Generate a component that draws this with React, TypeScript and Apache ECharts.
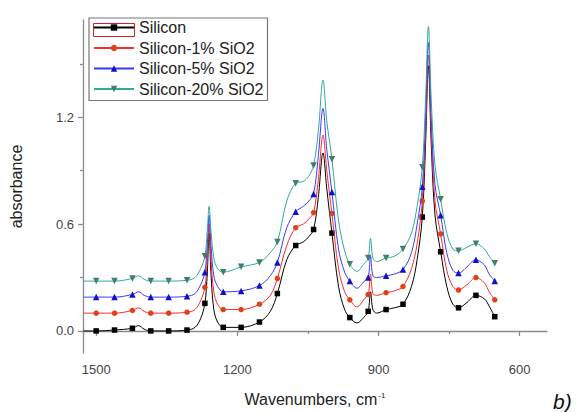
import React, { useEffect, useRef } from "react";
import * as echarts from "echarts";

const WAVENUMBERS = [
  1527, 1500, 1461, 1423, 1410, 1398, 1384, 1346, 1307, 1290, 1278, 1269, 1264, 1260, 1256, 1250,
  1242, 1230, 1192, 1153, 1130, 1115, 1095, 1076, 1060, 1048, 1038, 1028, 1018, 1010, 999, 985,
  972, 961, 946, 930, 922, 917, 912, 904, 884, 866, 848, 830, 818, 807, 800, 794, 788, 780, 768,
  755, 742, 730, 712, 693, 675, 665, 653,
];

const SILICON = [
  0.0, 0.0, 0.005, 0.015, 0.03, 0.01, 0.0, 0.0, 0.005, 0.02, 0.07, 0.155, 0.32, 0.55, 0.32, 0.12,
  0.05, 0.02, 0.02, 0.05, 0.11, 0.21, 0.4, 0.48, 0.5, 0.53, 0.57, 0.75, 1.0, 0.8, 0.55, 0.25,
  0.12, 0.075, 0.045, 0.08, 0.11, 0.22, 0.12, 0.1, 0.12, 0.13, 0.15, 0.25, 0.4, 0.64, 1.05, 1.49,
  1.05, 0.65, 0.445, 0.25, 0.15, 0.13, 0.16, 0.2, 0.18, 0.14, 0.08,
];

const SILICON_1 = [
  0.1, 0.1, 0.1, 0.115, 0.13, 0.11, 0.1, 0.1, 0.105, 0.12, 0.17, 0.245, 0.4, 0.6, 0.4, 0.22,
  0.15, 0.12, 0.12, 0.15, 0.2, 0.295, 0.48, 0.58, 0.6, 0.63, 0.665, 0.85, 1.1, 0.9, 0.66, 0.35,
  0.22, 0.175, 0.135, 0.18, 0.205, 0.32, 0.21, 0.2, 0.215, 0.225, 0.25, 0.35, 0.49, 0.73, 1.12,
  1.55, 1.12, 0.73, 0.545, 0.34, 0.25, 0.23, 0.26, 0.3, 0.27, 0.22, 0.175,
];

const SILICON_5 = [
  0.19, 0.19, 0.19, 0.205, 0.22, 0.2, 0.19, 0.19, 0.195, 0.21, 0.26, 0.33, 0.48, 0.65, 0.48, 0.31,
  0.25, 0.22, 0.225, 0.255, 0.31, 0.385, 0.58, 0.67, 0.7, 0.73, 0.77, 0.98, 1.25, 1.02, 0.78,
  0.46, 0.33, 0.28, 0.24, 0.28, 0.3, 0.42, 0.31, 0.3, 0.31, 0.32, 0.345, 0.44, 0.6, 0.81, 1.2,
  1.62, 1.2, 0.82, 0.65, 0.44, 0.34, 0.325, 0.36, 0.4, 0.37, 0.32, 0.28,
];

const SILICON_20 = [
  0.28, 0.28, 0.28, 0.295, 0.31, 0.29, 0.28, 0.28, 0.285, 0.3, 0.35, 0.42, 0.56, 0.7, 0.56, 0.41,
  0.35, 0.33, 0.36, 0.385, 0.44, 0.5, 0.73, 0.83, 0.84, 0.87, 0.93, 1.12, 1.41, 1.18, 0.965,
  0.62, 0.45, 0.375, 0.335, 0.38, 0.41, 0.52, 0.41, 0.39, 0.41, 0.42, 0.46, 0.55, 0.7, 0.92,
  1.3, 1.71, 1.3, 0.93, 0.74, 0.55, 0.46, 0.45, 0.47, 0.49, 0.46, 0.42, 0.38,
];

const MARKER_WAVENUMBERS = [
  1500, 1461, 1423, 1384, 1346, 1307, 1269, 1230, 1192, 1153, 1115, 1076, 1038, 999, 961, 922,
  884, 848, 807, 768, 730, 693, 653,
];

const SERIES_NAMES = ["Silicon", "Silicon-1% SiO2", "Silicon-5% SiO2", "Silicon-20% SiO2"];
const X_TICK_LABELS = [1500, 1200, 900, 600];
const X_MINOR_TICKS = [1350, 1050, 750];
const Y_TICK_LABELS = [0, 0.6, 1.2];
const Y_MINOR_TICKS = [0.3, 0.9, 1.5];

const FONT = "'Liberation Sans', Arial, sans-serif";
const AXIS_COLOR = "#8a8a8a";

function buildData(values: number[]) {
  const markers = new Set(MARKER_WAVENUMBERS);
  return WAVENUMBERS.map((w, i) =>
    markers.has(w) ? { value: [w, values[i]] } : { value: [w, values[i]], symbol: "none" }
  );
}

export default function App() {
  const ref = useRef<HTMLDivElement>(null);

  useEffect(() => {
    if (!ref.current) return;
    const chart = echarts.init(ref.current, undefined, { renderer: "svg" });

    const styles = [
      { line: "#000000", marker: "#000000", symbol: "rect", rotate: 0, size: 5.5 },
      { line: "#ff2a2a", marker: "#e0401a", symbol: "circle", rotate: 0, size: 5.5 },
      { line: "#3a3aff", marker: "#1010c8", symbol: "triangle", rotate: 0, size: 6.5 },
      { line: "#30a8a0", marker: "#3f7f6c", symbol: "triangle", rotate: 180, size: 6.5 },
    ];
    const valueSets = [SILICON, SILICON_1, SILICON_5, SILICON_20];

    const series = SERIES_NAMES.map((name, i) => ({
      name,
      type: "line",
      xAxisIndex: 0,
      yAxisIndex: 0,
      data: buildData(valueSets[i]),
      smooth: 0.35,
      showSymbol: true,
      showAllSymbol: true,
      symbol: styles[i].symbol,
      symbolRotate: styles[i].rotate,
      symbolSize: styles[i].size,
      lineStyle: { color: styles[i].line, width: 1 },
      itemStyle: { color: styles[i].marker },
      emphasis: { disabled: true },
      z: 2 + i,
    }));

    const axisLineStyle = { color: AXIS_COLOR, width: 1.3 };

    chart.setOption({
      animation: false,
      backgroundColor: "#ffffff",
      grid: { left: 78, right: 30, top: 20, bottom: 59, containLabel: false },
      legend: {
        orient: "vertical",
        left: 89,
        top: 18,
        padding: [0, 4, 2, 4],
        itemGap: 1.5,
        itemWidth: 40,
        itemHeight: 8,
        borderColor: "#777777",
        borderWidth: 1.2,
        selectedMode: false,
        textStyle: { fontSize: 16, fontFamily: FONT, color: "#222222", lineHeight: 19 },
        data: SERIES_NAMES,
      },
      xAxis: [
        {
          type: "value",
          inverse: true,
          min: 542,
          max: 1528,
          position: "bottom",
          axisLine: { show: true, lineStyle: axisLineStyle },
          axisTick: { show: true, customValues: X_TICK_LABELS, length: 5, lineStyle: axisLineStyle },
          axisLabel: {
            customValues: X_TICK_LABELS,
            formatter: (v: number) => String(v),
            fontSize: 13,
            fontFamily: FONT,
            color: "#444444",
            margin: 10,
          },
          splitLine: { show: false },
          name: "Wavenumbers, cm{s|-1}",
          nameLocation: "middle",
          nameGap: 38,
          nameTextStyle: {
            fontSize: 16,
            fontFamily: FONT,
            color: "#222222",
            rich: { s: { fontSize: 8, fontFamily: FONT, color: "#222222", verticalAlign: "top", padding: [0, 0, 8, 1] } },
          },
        },
        {
          type: "value",
          inverse: true,
          min: 542,
          max: 1528,
          position: "bottom",
          offset: 0,
          axisLine: { show: false },
          axisTick: { show: true, customValues: X_MINOR_TICKS, length: 3, lineStyle: axisLineStyle },
          axisLabel: { show: false },
          splitLine: { show: false },
        },
      ],
      yAxis: [
        {
          type: "value",
          min: -0.124,
          max: 1.747,
          position: "left",
          axisLine: { show: true, lineStyle: axisLineStyle },
          axisTick: { show: true, customValues: Y_TICK_LABELS, length: 5, lineStyle: axisLineStyle },
          axisLabel: {
            customValues: Y_TICK_LABELS,
            formatter: (v: number) => v.toFixed(1),
            fontSize: 13,
            fontFamily: FONT,
            color: "#444444",
            margin: 9,
          },
          splitLine: { show: false },
          name: "absorbance",
          nameLocation: "middle",
          nameGap: 59,
          nameTextStyle: { fontSize: 16, fontFamily: FONT, color: "#222222" },
        },
        {
          type: "value",
          min: -0.124,
          max: 1.747,
          position: "left",
          offset: 0,
          axisLine: { show: false },
          axisTick: { show: true, customValues: Y_MINOR_TICKS, length: 3, lineStyle: axisLineStyle },
          axisLabel: { show: false },
          splitLine: { show: false },
        },
      ],
      graphic: [
        {
          type: "rect",
          left: 91,
          top: 21,
          shape: { x: 0, y: 0, width: 41, height: 13 },
          style: { fill: "none", stroke: "#d02020", lineWidth: 1 },
          z: 100,
        },
        {
          type: "text",
          left: 553,
          top: 391,
          style: {
            text: "b)",
            fontSize: 21,
            fontStyle: "italic",
            fontFamily: FONT,
            fill: "#111111",
          },
        },
      ],
      series,
    });

    return () => chart.dispose();
  }, []);

  return (
    <div
      ref={ref}
      style={{ position: "fixed", left: 0, top: 0, width: 577, height: 412, background: "#fff" }}
    />
  );
}
